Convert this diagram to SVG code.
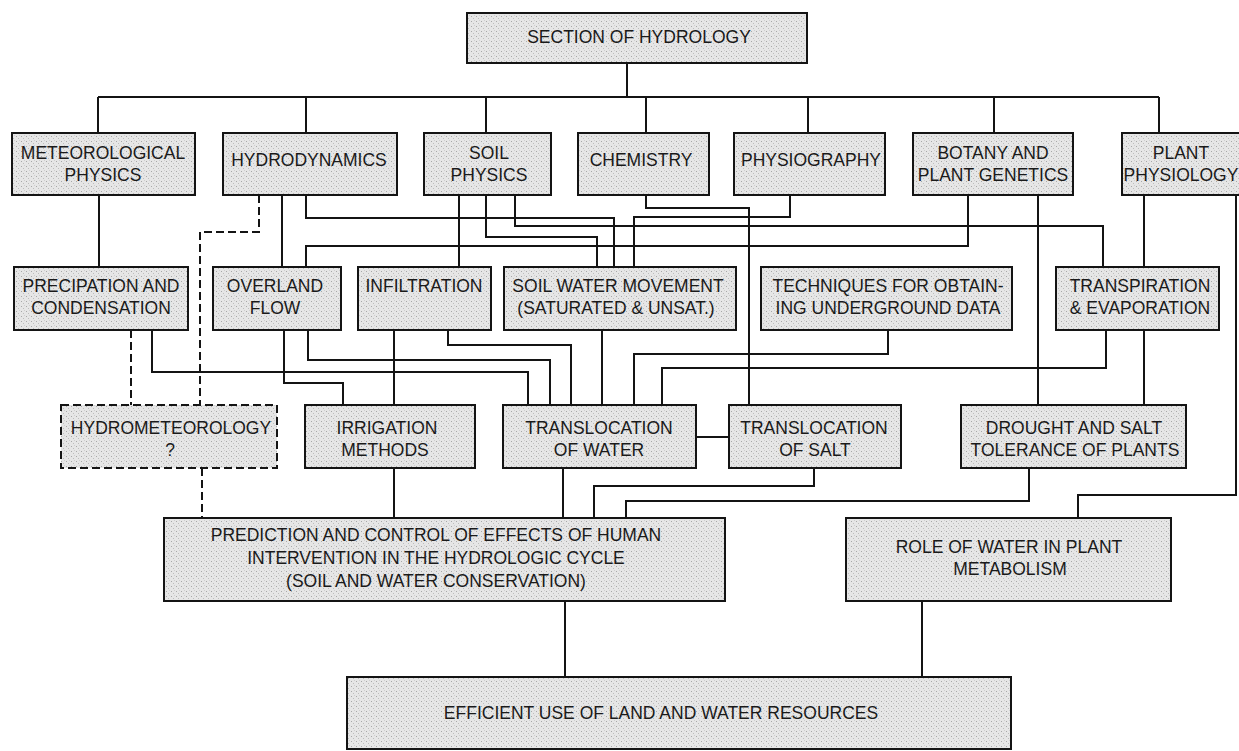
<svg xmlns="http://www.w3.org/2000/svg" width="1239" height="751" viewBox="0 0 1239 751">
<defs>
<pattern id="stip" width="5" height="5" patternUnits="userSpaceOnUse">
<rect width="5" height="5" fill="#e6e6e6"/>
<rect x="1" y="1" width="1" height="1" fill="#a8a8a8"/>
<rect x="3" y="3" width="1" height="1" fill="#bdbdbd"/>
<rect x="4" y="0" width="1" height="1" fill="#cfcfcf"/>
</pattern>
<style>
.box{fill:url(#stip);stroke:#141414;stroke-width:2}
.dbox{fill:url(#stip);stroke:#141414;stroke-width:2;stroke-dasharray:8 4}
.t{font-family:"Liberation Sans",Arial,sans-serif;font-size:17.5px;fill:#1a1a1a;text-anchor:middle}
.c{fill:none;stroke:#141414;stroke-width:2}
.d{fill:none;stroke:#141414;stroke-width:2;stroke-dasharray:8 4}
</style>
</defs>
<rect width="1239" height="751" fill="#ffffff"/>

<g id="connectors">
<path class="c" d="M627 63V97M98 97H1159"/>
<path class="c" d="M98 97V133M306 97V133M486 97V133M646 97V133M808 97V133M994 97V133M1159 97V133"/>
<path class="c" d="M99 195V267"/>
<path class="d" d="M259 195V232H200V405"/>
<path class="c" d="M282 195V267"/>
<path class="c" d="M306 195V218H614V267"/>
<path class="c" d="M459 195V267"/>
<path class="c" d="M486 195V237H597V267"/>
<path class="c" d="M515 195V226H1103V267"/>
<path class="c" d="M790 195V217H634V267"/>
<path class="c" d="M646 195V208H749V405"/>
<path class="c" d="M968 195V246H306V267"/>
<path class="c" d="M1038 195V405"/>
<path class="c" d="M1144 195V267"/>
<path class="c" d="M1236 195V495H1078V518"/>
<path class="d" d="M131 330V405"/>
<path class="c" d="M152 330V372H528V405"/>
<path class="c" d="M284 330V383H343V405"/>
<path class="c" d="M308 330V360H550V405"/>
<path class="c" d="M394 330V405"/>
<path class="c" d="M448 330V345H571V405"/>
<path class="c" d="M602 330V405"/>
<path class="c" d="M888 330V354H634V405"/>
<path class="c" d="M1106 330V368H662V405"/>
<path class="c" d="M1144 330V405"/>
<path class="d" d="M202 468V518"/>
<path class="c" d="M394 468V518"/>
<path class="c" d="M563 468V518"/>
<path class="c" d="M814 468V486H594V518"/>
<path class="c" d="M1029 468V501H626V518"/>
<path class="c" d="M696 437H729"/>
<path class="c" d="M565 601V677"/>
<path class="c" d="M922 601V677"/>
</g>

<g id="n-section"><rect class="box" x="467" y="13" width="340" height="50"/><text class="t" x="639" y="43">SECTION OF HYDROLOGY</text></g>

<g id="n-meteo"><rect class="box" x="12" y="133" width="183" height="62"/><text class="t" x="103" y="159">METEOROLOGICAL</text><text class="t" x="103" y="181">PHYSICS</text></g>
<g id="n-hydrodyn"><rect class="box" x="223" y="133" width="174" height="62"/><text class="t" x="309" y="166">HYDRODYNAMICS</text></g>
<g id="n-soilphys"><rect class="box" x="424" y="133" width="127" height="62"/><text class="t" x="489" y="159">SOIL</text><text class="t" x="489" y="181">PHYSICS</text></g>
<g id="n-chem"><rect class="box" x="578" y="133" width="131" height="62"/><text class="t" x="641" y="166">CHEMISTRY</text></g>
<g id="n-physio"><rect class="box" x="734" y="133" width="151" height="62"/><text class="t" x="811" y="166">PHYSIOGRAPHY</text></g>
<g id="n-botany"><rect class="box" x="913" y="133" width="160" height="62"/><text class="t" x="993" y="159">BOTANY AND</text><text class="t" x="993" y="181">PLANT GENETICS</text></g>
<g id="n-plantphys"><rect class="box" x="1122" y="133" width="130" height="62"/><text class="t" x="1181" y="159">PLANT</text><text class="t" x="1181" y="181">PHYSIOLOGY</text></g>

<g id="n-precip"><rect class="box" x="14" y="267" width="174" height="63"/><text class="t" x="101" y="292">PRECIPATION AND</text><text class="t" x="101" y="314">CONDENSATION</text></g>
<g id="n-overland"><rect class="box" x="213" y="267" width="128" height="63"/><text class="t" x="275" y="292">OVERLAND</text><text class="t" x="275" y="314">FLOW</text></g>
<g id="n-infil"><rect class="box" x="358" y="267" width="133" height="63"/><text class="t" x="424" y="292">INFILTRATION</text></g>
<g id="n-swm"><rect class="box" x="504" y="267" width="232" height="63"/><text class="t" x="618" y="292">SOIL WATER MOVEMENT</text><text class="t" x="616" y="314">(SATURATED &amp; UNSAT.)</text></g>
<g id="n-tech"><rect class="box" x="761" y="267" width="251" height="63"/><text class="t" x="888" y="292">TECHNIQUES FOR OBTAIN-</text><text class="t" x="888" y="314">ING UNDERGROUND DATA</text></g>
<g id="n-transp"><rect class="box" x="1056" y="267" width="163" height="63"/><text class="t" x="1140" y="292">TRANSPIRATION</text><text class="t" x="1140" y="314">&amp; EVAPORATION</text></g>

<g id="n-hydromet"><rect class="dbox" x="61" y="405" width="216" height="63"/><text class="t" x="171" y="434">HYDROMETEOROLOGY</text><text class="t" x="170" y="456">?</text></g>
<g id="n-irrig"><rect class="box" x="305" y="405" width="170" height="63"/><text class="t" x="387" y="434">IRRIGATION</text><text class="t" x="385" y="456">METHODS</text></g>
<g id="n-tw"><rect class="box" x="503" y="405" width="193" height="63"/><text class="t" x="599" y="434">TRANSLOCATION</text><text class="t" x="599" y="456">OF WATER</text></g>
<g id="n-ts"><rect class="box" x="729" y="405" width="172" height="63"/><text class="t" x="814" y="434">TRANSLOCATION</text><text class="t" x="815" y="456">OF SALT</text></g>
<g id="n-drought"><rect class="box" x="961" y="405" width="225" height="63"/><text class="t" x="1074" y="434">DROUGHT AND SALT</text><text class="t" x="1075" y="456">TOLERANCE OF PLANTS</text></g>

<g id="n-predict"><rect class="box" x="164" y="518" width="561" height="83"/><text class="t" x="436" y="541">PREDICTION AND CONTROL OF EFFECTS OF HUMAN</text><text class="t" x="436" y="564">INTERVENTION IN THE HYDROLOGIC CYCLE</text><text class="t" x="436" y="587">(SOIL AND WATER CONSERVATION)</text></g>
<g id="n-role"><rect class="box" x="846" y="518" width="325" height="83"/><text class="t" x="1009" y="553">ROLE OF WATER IN PLANT</text><text class="t" x="1010" y="575">METABOLISM</text></g>

<g id="n-efficient"><rect class="box" x="347" y="677" width="664" height="72"/><text class="t" x="661" y="719">EFFICIENT USE OF LAND AND WATER RESOURCES</text></g>
</svg>
